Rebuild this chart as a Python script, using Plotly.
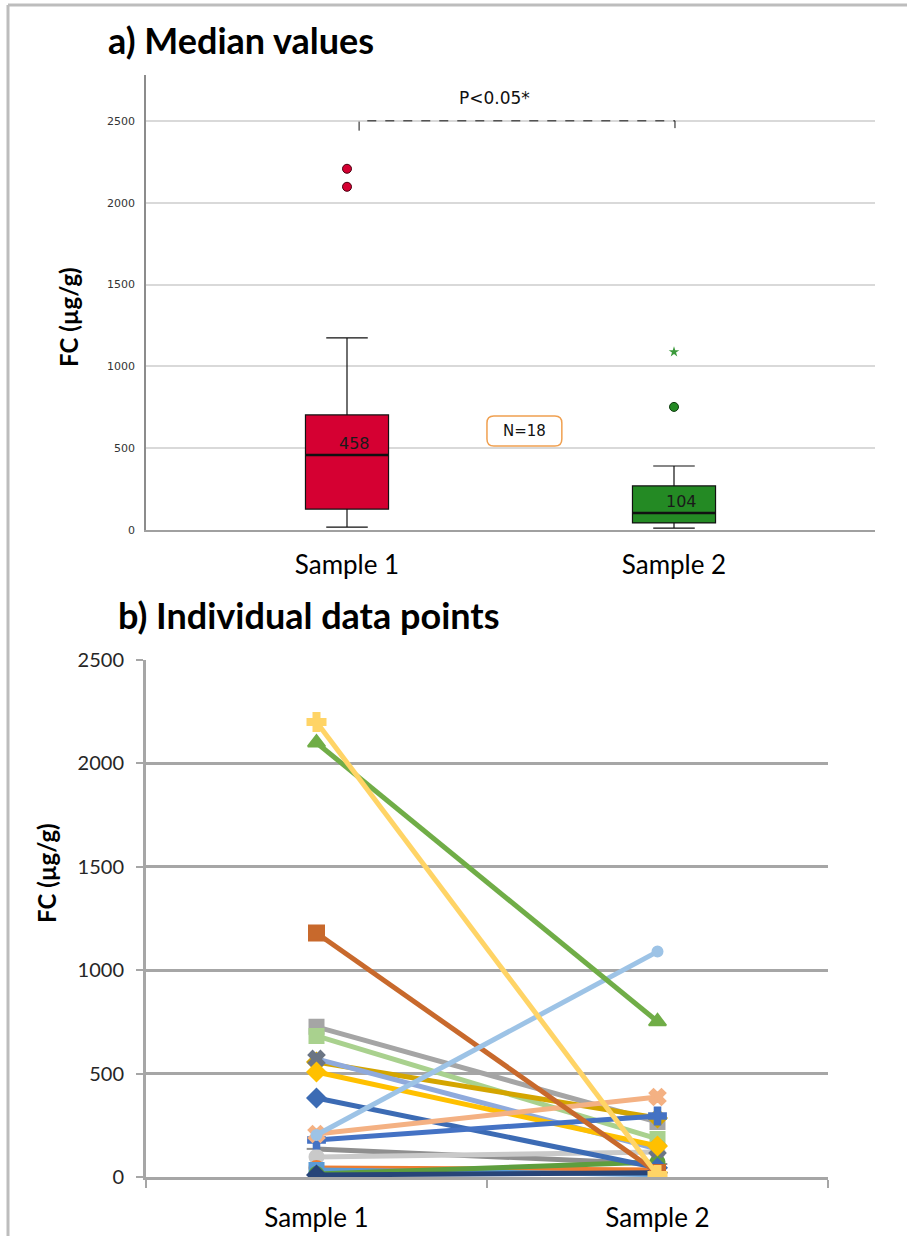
import plotly.graph_objects as go

W, H = 907, 1236

# ---------------- panel a: box-plot summary statistics ----------------
groups = ["Sample 1", "Sample 2"]
q1 = [128, 43]
medians = [458, 104]
q3 = [703, 269]
lower_fence = [18, 12]
upper_fence = [1174, 391]
box_colors = ["#D50032", "#248A24"]
outliers_s1 = [2097, 2207]
outlier_s2 = [752]
extreme_s2 = [1088]
n_subjects = 18
p_text = "P<0.05*"

# ---------------- panel b: paired individual values ----------------
sample1 = [136, 97, 44, 34, 15, 10, 382, 726, 682, 556, 571, 508, 179, 208, 1180, 203, 2100, 2200]
sample2 = [63, 121, 34, 12, 72, 20, 45, 266, 184, 285, 135, 150, 295, 387, 22, 1090, 752, 10]
line_colors = ["#8F8F8F", "#C9C9C9", "#ED7D31", "#5B9BD5", "#5E9E3E", "#264478",
               "#3C6BB4", "#A5A5A5", "#A9D18E", "#D4A500", "#8FAADC", "#FFC000",
               "#4472C4", "#F4B183", "#C8692C", "#9DC3E6", "#70AD47", "#FFD466"]
marker_symbols = ["line-ew", "circle", "circle", "square", "circle", "diamond",
                  "diamond", "square", "square", "diamond", "x", "diamond",
                  "cross", "x", "square", "circle", "triangle-up", "cross"]
marker_colors = ["#8F8F8F", "#C9C9C9", "#ED7D31", "#5B9BD5", "#5E9E3E", "#264478",
                 "#3C6BB4", "#A5A5A5", "#A9D18E", "#D4A500", "#6B7585", "#FFC000",
                 "#4472C4", "#F4B183", "#C8692C", "#9DC3E6", "#70AD47", "#FFD466"]
marker_sizes = [14, 14, 14, 14, 14, 14, 14, 14, 14, 14, 14, 14, 14, 14, 15, 10, 15, 15]


def px_x(x):
    return x / W


def px_y(y):
    return 1 - y / H


fig = go.Figure()

# panel a geometry (data units)
box_w = 0.254
for i, g in enumerate(groups):
    fig.add_trace(go.Box(
        x=[i], q1=[q1[i]], median=[medians[i]], q3=[q3[i]],
        lowerfence=[lower_fence[i]], upperfence=[upper_fence[i]],
        width=box_w, whiskerwidth=0.5, fillcolor=box_colors[i],
        line=dict(color="#111111", width=1.2), boxpoints=False,
        hoverinfo="skip", xaxis="x", yaxis="y", name=g))
    # heavier median stroke
    fig.add_trace(go.Scatter(
        x=[i - box_w / 2, i + box_w / 2], y=[medians[i], medians[i]],
        mode="lines", line=dict(color="#111111", width=2.4),
        hoverinfo="skip", xaxis="x", yaxis="y"))

fig.add_trace(go.Scatter(
    x=[0] * len(outliers_s1), y=outliers_s1, mode="markers",
    marker=dict(symbol="circle", size=9, color=box_colors[0],
                line=dict(color="#4A0010", width=1)),
    hoverinfo="skip", xaxis="x", yaxis="y"))
fig.add_trace(go.Scatter(
    x=[1] * len(outlier_s2), y=outlier_s2, mode="markers",
    marker=dict(symbol="circle", size=9, color=box_colors[1],
                line=dict(color="#0E3A0E", width=1)),
    hoverinfo="skip", xaxis="x", yaxis="y"))
fig.add_trace(go.Scatter(
    x=[1] * len(extreme_s2), y=extreme_s2, mode="markers",
    marker=dict(symbol="star", size=8, color="#3C9A3C"),
    hoverinfo="skip", xaxis="x", yaxis="y"))

# panel b paired lines
for s1, s2, lc, ms, mc, sz in zip(sample1, sample2, line_colors, marker_symbols,
                                  marker_colors, marker_sizes):
    fig.add_trace(go.Scatter(
        x=groups, y=[s1, s2], mode="lines+markers",
        line=dict(color=lc, width=5),
        marker=dict(symbol=ms, size=sz, color=mc,
                    line=dict(color=mc, width=2)),
        hoverinfo="skip", xaxis="x2", yaxis="y2"))

shapes = []
# outer frame strokes
shapes.append(dict(type="line", xref="paper", yref="paper",
                   x0=px_x(8), x1=px_x(8), y0=px_y(5), y1=0,
                   line=dict(color="#BDBDBD", width=3)))
shapes.append(dict(type="line", xref="paper", yref="paper",
                   x0=px_x(8), x1=1, y0=px_y(5), y1=px_y(5),
                   line=dict(color="#BDBDBD", width=3)))
# significance bracket
shapes.append(dict(type="path", xref="x", yref="y",
                   path="M 0.037,2440 L 0.037,2500 L 1.003,2500 L 1.003,2440",
                   line=dict(color="#111111", width=1, dash="dash")))
# rounded N box
bx0, bx1, by0, by1 = 0.428, 0.657, 513, 697
rx, ry = 0.021, 43
shapes.append(dict(
    type="path", xref="x", yref="y",
    path=(f"M {bx0 + rx},{by0} L {bx1 - rx},{by0} Q {bx1},{by0} {bx1},{by0 + ry} "
          f"L {bx1},{by1 - ry} Q {bx1},{by1} {bx1 - rx},{by1} "
          f"L {bx0 + rx},{by1} Q {bx0},{by1} {bx0},{by1 - ry} "
          f"L {bx0},{by0 + ry} Q {bx0},{by0} {bx0 + rx},{by0} Z"),
    line=dict(color="#F0A050", width=1.5), fillcolor="white"))

annotations = [
    dict(text="<b>a) Median values</b>", xref="paper", yref="paper",
         x=px_x(106), y=px_y(40), xanchor="left", yanchor="middle", showarrow=False,
         font=dict(family="Lato", size=36, color="#000000")),
    dict(text="<b>b) Individual data points</b>", xref="paper", yref="paper",
         x=px_x(116), y=px_y(615), xanchor="left", yanchor="middle", showarrow=False,
         font=dict(family="Lato", size=36, color="#000000")),
    dict(text="<b>FC (µg/g)</b>", xref="paper", yref="paper",
         x=px_x(69), y=px_y(317), textangle=-90, showarrow=False,
         xanchor="center", yanchor="middle",
         font=dict(family="Lato", size=24, color="#000000")),
    dict(text="<b>FC (µg/g)</b>", xref="paper", yref="paper",
         x=px_x(46), y=px_y(873), textangle=-90, showarrow=False,
         xanchor="center", yanchor="middle",
         font=dict(family="Lato", size=24, color="#000000")),
    dict(text=p_text, xref="x", yref="y", x=0.45, y=2640, showarrow=False,
         font=dict(family="DejaVu Sans", size=17, color="#111111")),
    dict(text=f"N={n_subjects}", xref="x", yref="y", x=(bx0 + bx1) / 2, y=(by0 + by1) / 2,
         showarrow=False, font=dict(family="DejaVu Sans", size=15, color="#111111")),
]
for i, m in enumerate(medians):
    annotations.append(dict(text=str(m), xref="x", yref="y", x=i + 0.022, y=m,
                            yanchor="bottom", showarrow=False,
                            font=dict(family="DejaVu Sans", size=16, color="#1A1A1A")))

fig.update_layout(
    width=W, height=H, margin=dict(l=0, r=0, t=0, b=0, autoexpand=False),
    paper_bgcolor="white", plot_bgcolor="white", showlegend=False,
    shapes=shapes, annotations=annotations,
    xaxis=dict(domain=[px_x(146), px_x(875)], range=[-0.6147, 1.6147], anchor="y",
               tickvals=[0, 1], ticktext=groups, showgrid=False, zeroline=False,
               showline=True, linecolor="#A0A0A0", linewidth=2, ticks="",
               ticklabelstandoff=11, automargin=False,
               tickfont=dict(family="Lato", size=26, color="#000000")),
    yaxis=dict(domain=[px_y(530), px_y(75)], range=[0, 2780], anchor="x",
               tickvals=[0, 500, 1000, 1500, 2000, 2500], showgrid=True,
               gridcolor="#D9D9D9", gridwidth=1.5, zeroline=False,
               showline=True, linecolor="#8C8C8C", linewidth=1.5, ticks="",
               ticklabelstandoff=7, automargin=False,
               tickfont=dict(family="DejaVu Sans", size=11, color="#333333")),
    xaxis2=dict(domain=[px_x(146), px_x(828)], anchor="y2", type="category",
                categoryorder="array", categoryarray=groups, range=[-0.5, 1.5],
                tickson="boundaries", ticks="outside", ticklen=8, tickwidth=2,
                tickcolor="#A6A6A6", showline=True, linecolor="#A6A6A6", linewidth=3,
                showgrid=False, zeroline=False, ticklabelstandoff=16, automargin=False,
                tickfont=dict(family="Lato", size=26, color="#000000")),
    yaxis2=dict(domain=[px_y(1177), px_y(660)], anchor="x2", range=[0, 2500],
                tickvals=[0, 500, 1000, 1500, 2000, 2500], showgrid=True,
                gridcolor="#A6A6A6", gridwidth=3, zeroline=False,
                showline=True, linecolor="#A6A6A6", linewidth=3,
                ticks="outside", ticklen=7, tickwidth=2, tickcolor="#A6A6A6",
                ticklabelstandoff=8, automargin=False,
                tickfont=dict(family="Lato", size=20, color="#262626")),
)

fig.write_html("out.html")
